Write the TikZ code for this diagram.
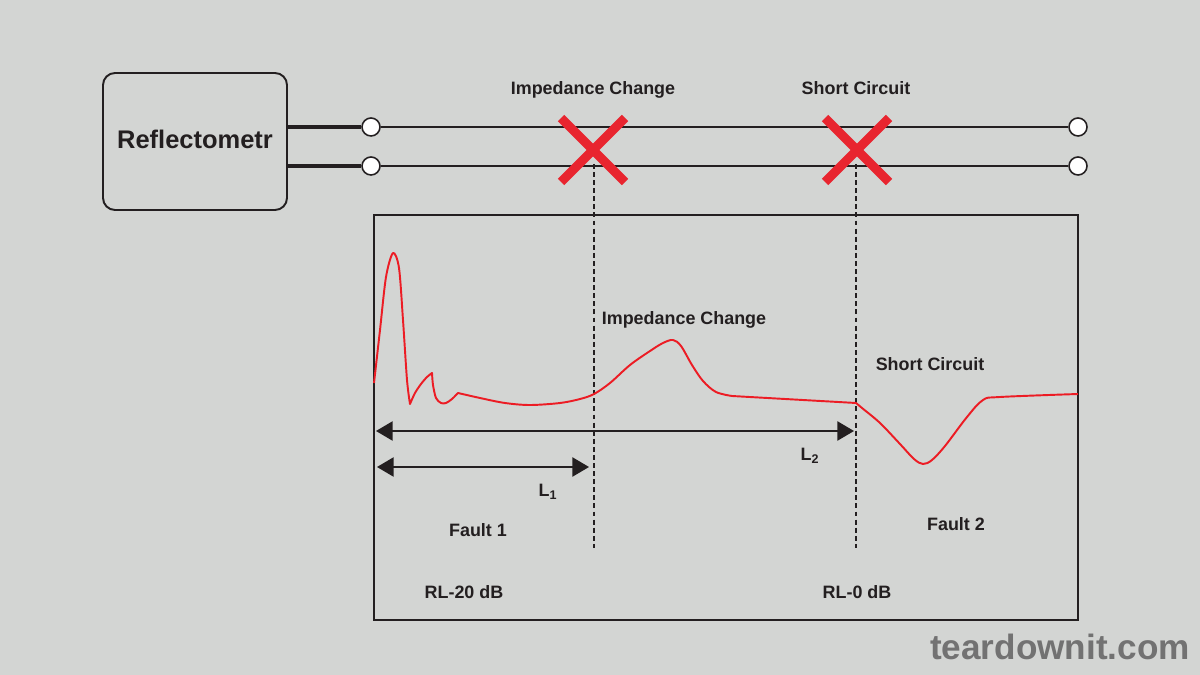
\documentclass[tikz,border=0pt]{standalone}
\usepackage{fontspec}
\setmainfont{Liberation Sans}
\usetikzlibrary{arrows.meta}
\definecolor{bg}{HTML}{D3D5D3}
\definecolor{ink}{HTML}{231F20}
\definecolor{fault}{HTML}{E8252F}
\definecolor{trace}{HTML}{EC1C24}
\definecolor{mark}{HTML}{727272}
\tikzset{
  lbl/.style={font=\bfseries\fontsize{10.2}{12}\selectfont, text=ink, inner sep=0pt},
  term/.style={circle, draw=ink, fill=white, line width=0.9pt, minimum size=0.36cm, inner sep=0pt},
  wire/.style={draw=ink, line width=0.85pt},
  lead/.style={draw=ink, line width=2.3pt},
  cross/.style={draw=fault, line width=5.2pt},
  cursor/.style={draw=ink, line width=0.75pt, dash pattern=on 2.8pt off 1.8pt},
  span/.style={draw=ink, line width=0.85pt, {Triangle[length=9.5pt,width=11pt]}-{Triangle[length=9.5pt,width=11pt]}}
}
\begin{document}
\begin{tikzpicture}[x=0.02cm, y=-0.02cm]
  \fill[bg] (0,0) rectangle (1200,675);
  \useasboundingbox (0,0) rectangle (1200,675);
  \node[draw=ink, line width=1.1pt, rounded corners=6.8pt, minimum width=3.68cm, minimum height=2.74cm,
        font=\bfseries\fontsize{14.5}{17}\selectfont, text=ink, text depth=2.5pt] (refl) at (195,141.5) {Reflectometr};
  \node[term] (a1) at (371,127) {};
  \node[term] (a2) at (371,166) {};
  \node[term] (b1) at (1078,127) {};
  \node[term] (b2) at (1078,166) {};
  \draw[lead] (refl.east |- a1) -- (a1);
  \draw[lead] (refl.east |- a2) -- (a2);
  \draw[wire] (a1) -- (b1);
  \draw[wire] (a2) -- (b2);
  \coordinate (f1) at (593,150);
  \coordinate (f2) at (857,150);
  \foreach \f in {f1,f2} {
    \draw[cross] ([shift={(-32,-32)}]\f) -- ([shift={(32,32)}]\f);
    \draw[cross] ([shift={(-32,32)}]\f) -- ([shift={(32,-32)}]\f);
  }
  \node[lbl] (imp top) at (593,90) {Impedance Change};
  \node[lbl] (sc top) at (856,88) {Short Circuit};
  \node[draw=ink, line width=0.9pt, minimum width=14.08cm, minimum height=8.1cm, inner sep=0pt] (screen) at (726,417.5) {};
  \coordinate (c1t) at (594,164);
  \coordinate (c1b) at (594,548);
  \coordinate (c2t) at (856,164);
  \coordinate (c2b) at (856,548);
  \draw[cursor] (c1t) -- (c1b);
  \draw[cursor] (c2t) -- (c2b);
  \draw[trace, line width=1.1pt, line join=round]
    plot[smooth, tension=0.5] coordinates {(374,383) (380,330) (386,277) (393,253) (399,268) (403,320) (407,380) (410,404)}
    -- plot[smooth, tension=0.5] coordinates {(410,404) (415,393) (421,384) (427,377) (432,373)}
    -- plot[smooth, tension=0.5] coordinates {(432,373) (433,385) (436,398) (441,403) (446,403) (452,399) (458,393)}
    -- plot[smooth, tension=0.55] coordinates {(458,393) (480,398) (505,403) (530,405) (560,403) (580,399) (594,394)
        (610,383) (630,365) (650,351) (663,343) (673,340) (681,346) (692,365) (703,381) (716,392) (732,396)}
    -- (856,403)
    -- plot[smooth, tension=0.55] coordinates {(856,403) (862,408) (880,423) (900,444) (914,459) (923,464) (932,460)
        (945,446) (967,417) (983,400) (1000,397) (1078,394)};
  \coordinate (s2a) at (376,431);
  \coordinate (s2b) at (854,431);
  \coordinate (s1a) at (377,467);
  \coordinate (s1b) at (589,467);
  \draw[span] (s2a) -- (s2b);
  \draw[span] (s1a) -- (s1b);
  \node[lbl] (imp) at (684,320) {Impedance Change};
  \node[lbl] (sc) at (930,364) {Short Circuit};
  \node[lbl] (len1) at (548,492) {L\textsubscript{1}};
  \node[lbl] (len2) at (810,456) {L\textsubscript{2}};
  \node[lbl] (fault1) at (478,530) {Fault 1};
  \node[lbl] (fault2) at (956,524) {Fault 2};
  \node[lbl] (rl1) at (464,592) {RL-20 dB};
  \node[lbl] (rl2) at (857,592) {RL-0 dB};
  \node[font=\bfseries\fontsize{20}{24}\selectfont, text=mark, inner sep=0pt] (site) at (1060,647) {teardownit.com};
\end{tikzpicture}
\end{document}
